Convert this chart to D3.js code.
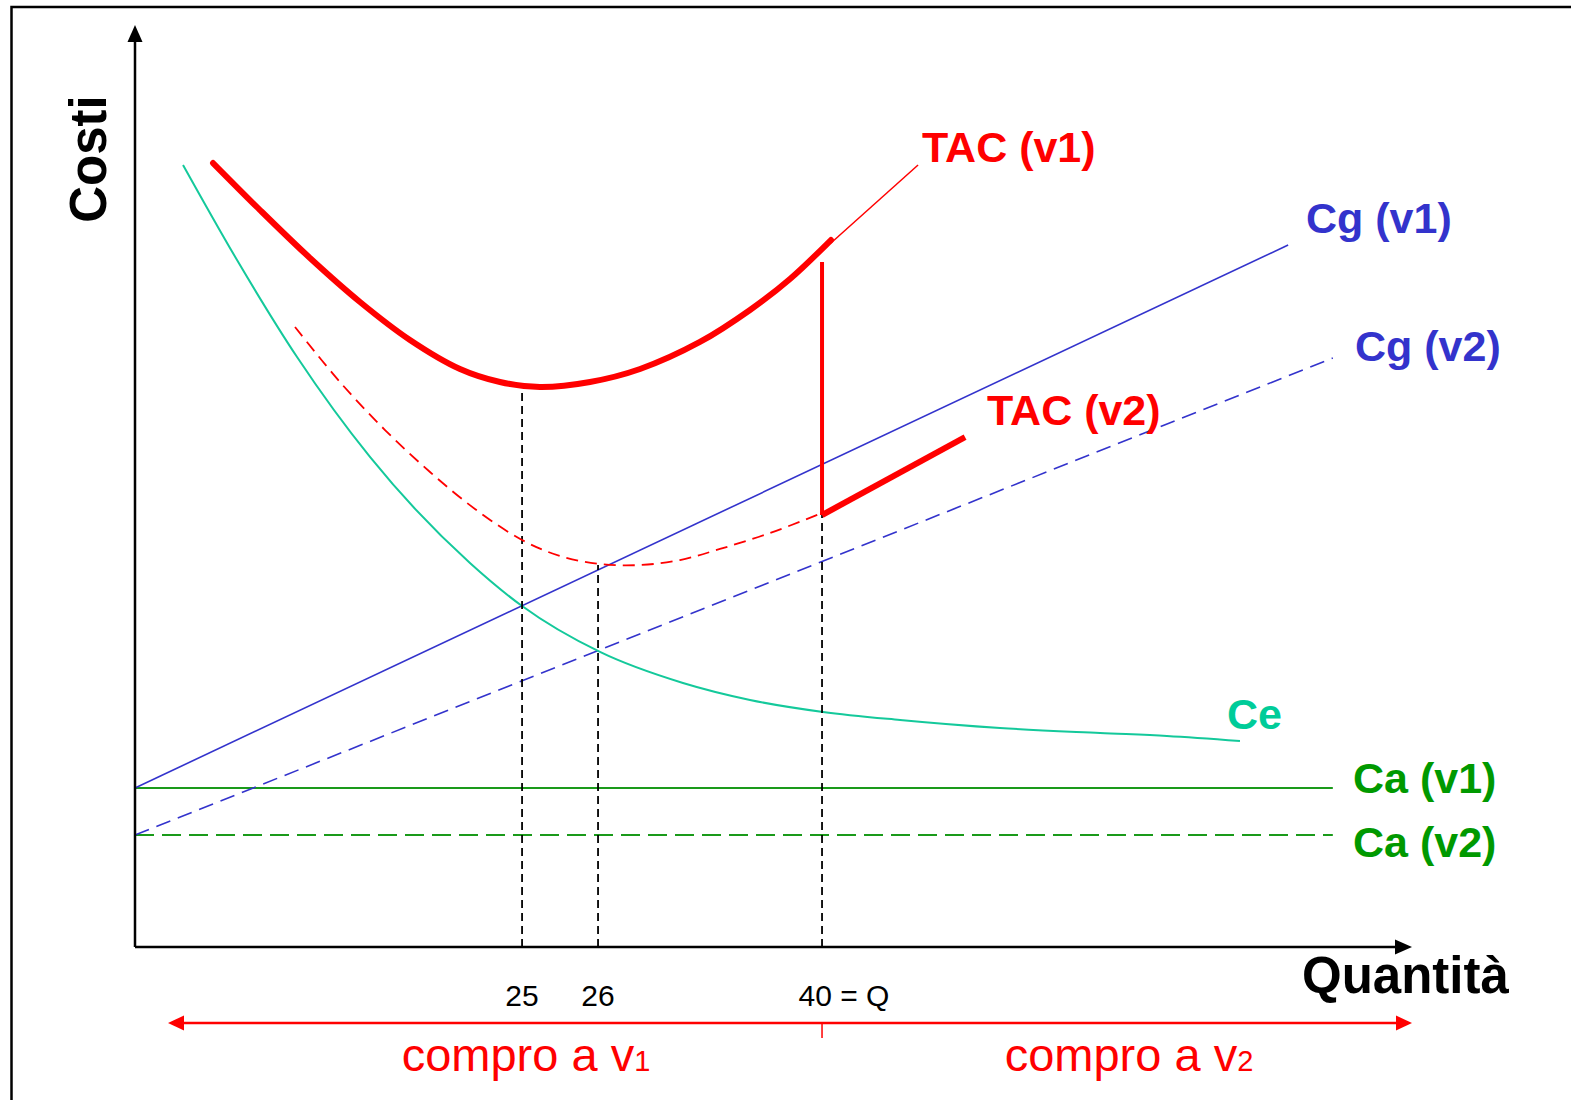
<!DOCTYPE html>
<html><head><meta charset="utf-8">
<script src="https://cdn.jsdelivr.net/npm/d3@7"></script>
<style>
html,body{margin:0;padding:0;background:#fff;}
svg{display:block;}
text{font-family:"Liberation Sans",Arial,sans-serif;}
</style></head>
<body>
<svg id="c" width="1571" height="1100"></svg>
<script>
// ---- data (abstract units: x 0..100 = quantity axis, y 0..100 = cost axis) ----
const caLevels = [17.25, 12.15];              // Ca (v1), Ca (v2)
const caEndX = 93.8;
const cgV1X = [0, 90.3],  cgV1Y = [17.25, 76.14];
const cgV2X = [0, 93.8],  cgV2Y = [12.15, 63.88];
const ceX = [3.76, 7.99, 12.69, 18.40, 26.23, 30.31, 36.41, 42.91, 48.16, 53.88, 59.91, 67.74, 75.57, 80.81, 86.53];
const ceY = [84.82, 74.51, 63.99, 53.15, 41.65, 36.98, 32.00, 28.63, 26.79, 25.49, 24.62, 23.75, 23.21, 22.89, 22.34];
const tacV1X = [6.11, 9.79, 13.70, 17.62, 21.53, 25.45, 28.58, 31.71, 35.63, 39.55, 44.24, 48.16, 51.29, 54.50];
const tacV1Y = [85.03, 79.93, 74.73, 69.96, 65.84, 62.69, 61.28, 60.74, 61.28, 62.69, 65.62, 69.09, 72.45, 76.68];
const tacV2X = [12.53, 16.05, 19.58, 23.10, 26.62, 30.31, 33.28, 36.41, 39.55, 42.68, 45.81, 49.73, 53.80];
const tacV2Y = [67.25, 61.28, 56.07, 51.52, 47.51, 44.14, 42.41, 41.54, 41.43, 41.97, 43.17, 44.90, 47.07];
const jumpX = [53.80, 53.80], jumpY = [74.30, 46.85];
const tacV2SolidX = [53.80, 65.00], tacV2SolidY = [46.85, 55.31];
const leaderX = [54.50, 61.32], leaderY = [76.36, 84.82];
const tickPos = [30.31, 36.26, 53.80];
const tickTop = [60.41, 41.43, 46.85];
const tickLabels = ["25", "26", "40 = Q"];
const switchPos = 53.80;

// ---- scales ----
const svg = d3.select("#c");
const x = d3.scaleLinear().domain([0, 100]).range([135, 1412]);
const y = d3.scaleLinear().domain([0, 100]).range([947, 25]);
const line = d3.line().x(d => x(d[0])).y(d => y(d[1]));
const mono = d3.line().x(d => x(d[0])).y(d => y(d[1])).curve(d3.curveMonotoneX);
const smooth = d3.line().x(d => x(d[0])).y(d => y(d[1])).curve(d3.curveCatmullRom.alpha(0.5));
const zip = (a, b) => a.map((v, i) => [v, b[i]]);

const RED = "#ff0000", BLUE = "#3333cc", GREEN = "#1a9a1a", GREENT = "#009900", TEAL = "#14c99b";

// frame
svg.append("rect").attr("x", 11.5).attr("y", 7).attr("width", 1600).attr("height", 1200)
  .attr("fill", "none").attr("stroke", "#000").attr("stroke-width", 2.5);

// Ca lines
caLevels.forEach((lv, i) => {
  svg.append("path").attr("d", line([[0, lv], [caEndX, lv]]))
    .attr("fill", "none").attr("stroke", GREEN).attr("stroke-width", 2)
    .attr("stroke-dasharray", i === 1 ? "19,8" : null);
});
// Cg lines
svg.append("path").attr("d", line(zip(cgV1X, cgV1Y))).attr("fill", "none").attr("stroke", BLUE).attr("stroke-width", 1.6);
svg.append("path").attr("d", line(zip(cgV2X, cgV2Y))).attr("fill", "none").attr("stroke", BLUE).attr("stroke-width", 1.6).attr("stroke-dasharray", "15,8");
// Ce
svg.append("path").attr("d", mono(zip(ceX, ceY))).attr("fill", "none").attr("stroke", TEAL).attr("stroke-width", 2);
// dashed verticals
tickPos.forEach((t, i) => {
  svg.append("path").attr("d", line([[t, 0], [t, tickTop[i]]]))
    .attr("fill", "none").attr("stroke", "#000").attr("stroke-width", 1.8).attr("stroke-dasharray", "8,5");
});
// TAC v2 dashed
svg.append("path").attr("d", smooth(zip(tacV2X, tacV2Y))).attr("fill", "none").attr("stroke", RED).attr("stroke-width", 1.8).attr("stroke-dasharray", "12,7");
// TAC v1
svg.append("path").attr("d", smooth(zip(tacV1X, tacV1Y))).attr("fill", "none").attr("stroke", RED).attr("stroke-width", 6).attr("stroke-linecap", "round");
// jump
svg.append("path").attr("d", line(zip(jumpX, jumpY))).attr("fill", "none").attr("stroke", RED).attr("stroke-width", 4);
svg.append("path").attr("d", line(zip(tacV2SolidX, tacV2SolidY))).attr("fill", "none").attr("stroke", RED).attr("stroke-width", 6);
// leader
svg.append("path").attr("d", line(zip(leaderX, leaderY))).attr("fill", "none").attr("stroke", RED).attr("stroke-width", 1.5);

// axes
const x0 = x(0), y0 = y(0), xEnd = x(100), yEnd = y(100);
svg.append("path").attr("d", `M${x0},${y0}V${yEnd + 15}`).attr("stroke", "#000").attr("stroke-width", 2.5);
svg.append("path").attr("d", `M${x0},${y0}H${xEnd - 15}`).attr("stroke", "#000").attr("stroke-width", 2.5);
svg.append("path").attr("d", `M${x0},${yEnd}L${x0 - 7.5},${yEnd + 17}L${x0 + 7.5},${yEnd + 17}Z`).attr("fill", "#000");
svg.append("path").attr("d", `M${xEnd},${y0}L${xEnd - 17},${y0 - 7.5}L${xEnd - 17},${y0 + 7.5}Z`).attr("fill", "#000");

// axis titles
svg.append("text").attr("transform", `translate(106,159) rotate(-90)`).attr("text-anchor", "middle")
  .attr("font-size", 51).attr("font-weight", "bold").attr("fill", "#000").text("Costi");
svg.append("text").attr("x", 1302).attr("y", 993).attr("font-size", 51).attr("font-weight", "bold").attr("fill", "#000").text("Quantità");

// tick labels
tickLabels.forEach((t, i) => {
  const off = i === 2 ? 22 : 0;
  svg.append("text").attr("x", x(tickPos[i]) + off).attr("y", 1006).attr("text-anchor", "middle")
    .attr("font-size", 30).attr("fill", "#000").text(t);
});

// bottom red arrow
const ay = 1023, aL = 168;
svg.append("path").attr("d", `M${aL + 12},${ay}H${xEnd - 12}`).attr("stroke", RED).attr("stroke-width", 2.5);
svg.append("path").attr("d", `M${aL},${ay}L${aL + 16},${ay - 7.5}L${aL + 16},${ay + 7.5}Z`).attr("fill", RED);
svg.append("path").attr("d", `M${xEnd},${ay}L${xEnd - 16},${ay - 7.5}L${xEnd - 16},${ay + 7.5}Z`).attr("fill", RED);
svg.append("path").attr("d", `M${x(switchPos)},${ay}V${ay + 15}`).attr("stroke", RED).attr("stroke-width", 1.5);

function compro(cx, sub) {
  const t = svg.append("text").attr("x", cx).attr("y", 1071).attr("text-anchor", "middle")
    .attr("font-size", 47).attr("fill", RED);
  t.append("tspan").text("compro a v");
  t.append("tspan").attr("font-size", 29).text(sub);
}
compro(526, "1");
compro(1129, "2");

// curve labels
const labels = [
  {t: "TAC (v1)", x: 922, y: 162, c: RED},
  {t: "TAC (v2)", x: 987, y: 425, c: RED},
  {t: "Cg (v1)", x: 1306, y: 233, c: BLUE},
  {t: "Cg (v2)", x: 1355, y: 361, c: BLUE},
  {t: "Ce", x: 1227, y: 729, c: "#00cc99"},
  {t: "Ca (v1)", x: 1353, y: 793, c: GREENT},
  {t: "Ca (v2)", x: 1353, y: 857, c: GREENT}
];
labels.forEach(l => {
  svg.append("text").attr("x", l.x).attr("y", l.y).attr("font-size", 43).attr("font-weight", "bold")
    .attr("fill", l.c).text(l.t);
});
</script>
</body></html>
